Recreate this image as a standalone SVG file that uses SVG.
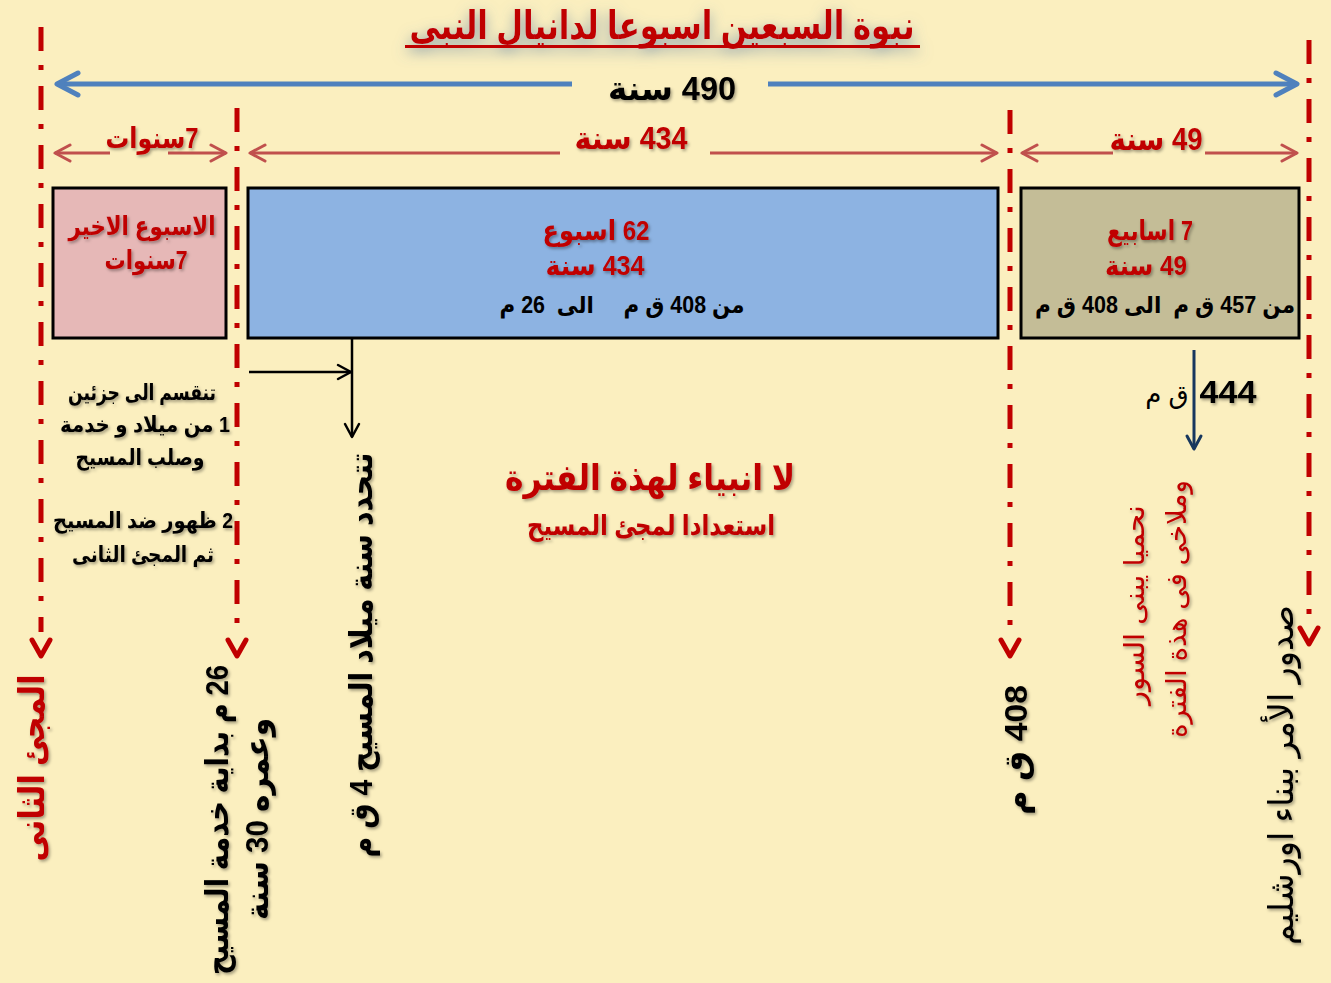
<svg xmlns="http://www.w3.org/2000/svg" width="1331" height="983" viewBox="0 0 1331 983">
<defs>
<style>
.ar{font-family:"Liberation Sans","DejaVu Sans",sans-serif;font-weight:bold;direction:rtl;unicode-bidi:embed;}
.red{fill:#C00000;}
.blk{fill:#000;}
.reg{font-weight:normal;}
.dd{stroke:#C00000;stroke-width:5;fill:none;stroke-dasharray:24 14 5 16;}
.tip{stroke:#C00000;stroke-width:5;fill:none;stroke-linecap:round;stroke-linejoin:round;}
.rarr{stroke:#C0504D;stroke-width:3;fill:none;}
.barr{stroke:#4F81BD;stroke-width:5;fill:none;}
.box{stroke:#000;stroke-width:3;}
</style>
<filter id="sh" x="-10%" y="-30%" width="120%" height="160%">
<feDropShadow dx="1.5" dy="2" stdDeviation="1.5" flood-color="#000" flood-opacity="0.35"/>
</filter>
<filter id="glow" x="-20%" y="-80%" width="140%" height="260%">
<feDropShadow dx="0" dy="4" stdDeviation="7" flood-color="#5D7FA3" flood-opacity="0.75"/>
</filter>
<marker id="mb" markerUnits="userSpaceOnUse" viewBox="0 0 30 30" markerWidth="30" markerHeight="30" refX="25" refY="15" orient="auto-start-reverse">
<path d="M4,4 L25,15 L4,26" fill="none" stroke="#4F81BD" stroke-width="5" stroke-linecap="round" stroke-linejoin="round"/>
</marker>
<marker id="mr" markerUnits="userSpaceOnUse" viewBox="0 0 20 20" markerWidth="20" markerHeight="20" refX="17" refY="10" orient="auto-start-reverse">
<path d="M2,2 L17,10 L2,18" fill="none" stroke="#C0504D" stroke-width="3" stroke-linecap="round" stroke-linejoin="round"/>
</marker>
<marker id="mk" markerUnits="userSpaceOnUse" viewBox="0 0 20 20" markerWidth="20" markerHeight="20" refX="16" refY="10" orient="auto">
<path d="M3,3 L16,10 L3,17" fill="none" stroke="#000" stroke-width="2.5" stroke-linecap="round" stroke-linejoin="round"/>
</marker>
<marker id="mn" markerUnits="userSpaceOnUse" viewBox="0 0 20 20" markerWidth="20" markerHeight="20" refX="16" refY="10" orient="auto">
<path d="M3,3 L16,10 L3,17" fill="none" stroke="#17375E" stroke-width="3" stroke-linecap="round" stroke-linejoin="round"/>
</marker>
</defs>
<rect x="0" y="0" width="1331" height="983" fill="#FBEFBF"/>

<g id="title">
<g filter="url(#glow)">
<text class="ar red" x="662" y="39" font-size="39" text-anchor="middle" textLength="505" lengthAdjust="spacingAndGlyphs">نبوة السبعين اسبوعا لدانيال النبى</text>
<rect x="405" y="45" width="515" height="3" fill="#C00000"/>
</g>
</g>

<g id="dividers">
<path class="dd" d="M41,27 V632"/>
<path class="tip" d="M32,640 L41,656 L50,640"/>
<path class="dd" d="M237,108 V632"/>
<path class="tip" d="M228,640 L237,656 L246,640"/>
<path class="dd" d="M1010,110 V632"/>
<path class="tip" d="M1001,640 L1010,656 L1019,640"/>
<path class="dd" d="M1309,40 V620"/>
<path class="tip" d="M1300,628 L1309,644 L1318,628"/>
</g>

<g id="spans">
<path class="barr" d="M572,84 H57" marker-end="url(#mb)"/>
<path class="barr" d="M768,84 H1297" marker-end="url(#mb)"/>
<text class="ar blk" x="672" y="100" font-size="33" text-anchor="middle" textLength="128" lengthAdjust="spacingAndGlyphs" filter="url(#sh)">490 سنة</text>
<path class="rarr" d="M110,153 H55" marker-end="url(#mr)"/>
<path class="rarr" d="M168,153 H226" marker-end="url(#mr)"/>
<text class="ar red" x="152" y="148" font-size="29" text-anchor="middle" textLength="93" lengthAdjust="spacingAndGlyphs" filter="url(#sh)">7سنوات</text>
<path class="rarr" d="M560,153 H250" marker-end="url(#mr)"/>
<path class="rarr" d="M710,153 H997" marker-end="url(#mr)"/>
<text class="ar red" x="631" y="149" font-size="31" text-anchor="middle" textLength="113" lengthAdjust="spacingAndGlyphs" filter="url(#sh)">434 سنة</text>
<path class="rarr" d="M1113,153 H1022" marker-end="url(#mr)"/>
<path class="rarr" d="M1205,153 H1297" marker-end="url(#mr)"/>
<text class="ar red" x="1156" y="150" font-size="31" text-anchor="middle" textLength="93" lengthAdjust="spacingAndGlyphs" filter="url(#sh)">49 سنة</text>
</g>

<g id="box-last-week">
<rect class="box" x="53" y="188" width="173" height="150" fill="#E6B8B7"/>
<text class="ar red" x="142" y="235" font-size="26" text-anchor="middle" textLength="147" lengthAdjust="spacingAndGlyphs" filter="url(#sh)">الاسبوع الاخير</text>
<text class="ar red" x="146" y="269" font-size="26" text-anchor="middle" textLength="83" lengthAdjust="spacingAndGlyphs" filter="url(#sh)">7سنوات</text>
</g>

<g id="box-62-weeks">
<rect class="box" x="248" y="188" width="750" height="150" fill="#8DB3E2"/>
<text class="ar red" x="596" y="240" font-size="28" text-anchor="middle" textLength="107" lengthAdjust="spacingAndGlyphs" filter="url(#sh)">62 اسبوع</text>
<text class="ar red" x="595" y="275" font-size="28" text-anchor="middle" textLength="99" lengthAdjust="spacingAndGlyphs" filter="url(#sh)">434 سنة</text>
<text class="ar blk" x="622" y="313" font-size="23" text-anchor="middle" textLength="245" lengthAdjust="spacingAndGlyphs" xml:space="preserve">من 408 ق م     الى  26 م</text>
</g>

<g id="box-7-weeks">
<rect class="box" x="1021" y="188" width="278" height="150" fill="#C4BD97"/>
<text class="ar red" x="1150" y="240" font-size="28" text-anchor="middle" textLength="86" lengthAdjust="spacingAndGlyphs" filter="url(#sh)">7 اسابيع</text>
<text class="ar red" x="1146" y="275" font-size="28" text-anchor="middle" textLength="82" lengthAdjust="spacingAndGlyphs" filter="url(#sh)">49 سنة</text>
<text class="ar blk" x="1165" y="313" font-size="23" text-anchor="middle" textLength="260" lengthAdjust="spacingAndGlyphs" xml:space="preserve">من 457 ق م  الى 408 ق م</text>
</g>

<g id="connectors">
<path d="M249,372 H351" stroke="#000" stroke-width="2.5" fill="none" marker-end="url(#mk)"/>
<path d="M352,338 V437" stroke="#000" stroke-width="2.5" fill="none" marker-end="url(#mk)"/>
<path d="M1194,350 V449" stroke="#17375E" stroke-width="3" fill="none" marker-end="url(#mn)"/>
</g>

<g id="note-444">
<text class="ar blk" x="1228" y="403" font-size="32" text-anchor="middle" textLength="57" lengthAdjust="spacingAndGlyphs" filter="url(#sh)">444</text>
<text class="ar blk reg" x="1167" y="403" font-size="26" text-anchor="middle">ق م</text>
</g>

<g id="note-last-week" filter="url(#sh)">
<text class="ar blk" x="142" y="400" font-size="22" text-anchor="middle" textLength="148" lengthAdjust="spacingAndGlyphs">تنقسم الى جزئين</text>
<text class="ar blk" x="145" y="432" font-size="22" text-anchor="middle" textLength="170" lengthAdjust="spacingAndGlyphs">1 من ميلاد و خدمة</text>
<text class="ar blk" x="140" y="465" font-size="22" text-anchor="middle" textLength="129" lengthAdjust="spacingAndGlyphs">وصلب المسيح</text>
<text class="ar blk" x="143" y="528" font-size="22" text-anchor="middle" textLength="180" lengthAdjust="spacingAndGlyphs">2 ظهور ضد المسيح</text>
<text class="ar blk" x="143" y="562" font-size="22" text-anchor="middle" textLength="142" lengthAdjust="spacingAndGlyphs">ثم المجئ الثانى</text>
</g>

<g id="note-no-prophets" filter="url(#sh)">
<text class="ar red" x="650" y="490" font-size="36" text-anchor="middle" textLength="290" lengthAdjust="spacingAndGlyphs">لا انبياء لهذة الفترة</text>
<text class="ar red" x="651" y="535" font-size="28" text-anchor="middle" textLength="248" lengthAdjust="spacingAndGlyphs">استعدادا لمجئ المسيح</text>
</g>

<g id="vertical-labels" filter="url(#sh)">
<text class="ar red" transform="translate(44,768) rotate(-90)" font-size="35" text-anchor="middle" textLength="187" lengthAdjust="spacingAndGlyphs">المجئ الثانى</text>
<text class="ar blk" transform="translate(228,820) rotate(-90)" font-size="32" text-anchor="middle" textLength="310" lengthAdjust="spacingAndGlyphs">26 م بداية خدمة المسيح</text>
<text class="ar blk" transform="translate(268,819) rotate(-90)" font-size="32" text-anchor="middle" textLength="202" lengthAdjust="spacingAndGlyphs">وعمره 30 سنة</text>
<text class="ar blk" transform="translate(372,655) rotate(-90)" font-size="32" text-anchor="middle" textLength="405" lengthAdjust="spacingAndGlyphs">تتحدد سنة ميلاد المسيح 4 ق م</text>
<text class="ar blk" transform="translate(1027,750) rotate(-90)" font-size="32" text-anchor="middle" textLength="130" lengthAdjust="spacingAndGlyphs">408 ق م</text>
<text class="ar red reg" transform="translate(1144,605) rotate(-90)" font-size="28" text-anchor="middle" textLength="200" lengthAdjust="spacingAndGlyphs">نحميا يبنى السور</text>
<text class="ar red reg" transform="translate(1186,609) rotate(-90)" font-size="28" text-anchor="middle" textLength="258" lengthAdjust="spacingAndGlyphs">وملاخى فى هذة الفترة</text>
<text class="ar blk reg" transform="translate(1293,775) rotate(-90)" font-size="34" text-anchor="middle" textLength="340" lengthAdjust="spacingAndGlyphs">صدور الأمر ببناء اورشليم</text>
</g>
</svg>
